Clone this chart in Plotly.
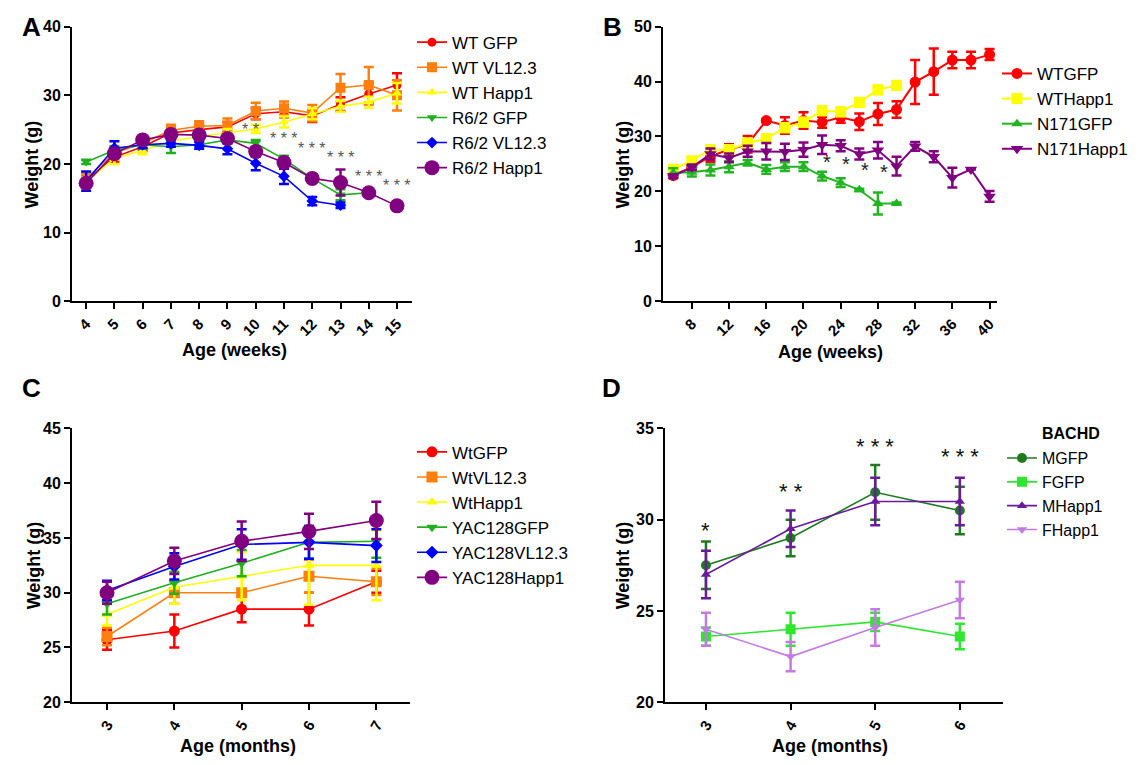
import plotly.graph_objects as go

W, H = 1139, 765
def px(x): return x / W
def py(y): return 1 - y / H

FONT = "Liberation Sans, Arial, sans-serif"

# ---------------- Panel A data (weeks) ----------------
a_weeks = [4, 5, 6, 7, 8, 9, 10, 11, 12, 13, 14, 15]
a_wt_gfp = [17.6, 21.0, 22.5, 24.5, 25.0, 25.4, 27.3, 27.6, 27.0, 28.7, 30.2, 31.5]
a_wt_gfp_err = [0.6, 0.7, 0.6, 0.7, 0.6, 0.7, 0.8, 0.8, 0.9, 1.0, 1.5, 1.7]
a_wt_vl = [17.9, 21.6, 23.0, 24.9, 25.5, 25.6, 27.7, 28.1, 27.4, 31.1, 31.5, 30.0]
a_wt_vl_err = [0.8, 1.0, 0.8, 0.8, 0.7, 1.0, 1.2, 1.0, 1.2, 2.0, 2.6, 2.2]
a_wt_happ = [17.4, 20.8, 22.0, 23.3, 24.0, 24.5, 25.1, 26.1, 27.3, 28.4, 29.0, 30.3]
a_wt_happ_err = [0.6, 0.8, 0.6, 0.6, 0.6, 0.6, 0.6, 0.8, 0.8, 0.8, 0.8, 1.5]
a_r62_gfp_weeks = [4, 5, 6, 7, 8, 9, 10, 11, 12, 13, 14]
a_r62_gfp = [20.3, 22.0, 22.8, 22.5, 22.8, 23.5, 23.0, 20.7, 17.9, 15.5, 15.8]
a_r62_gfp_err = [0.3, 0.5, 0.5, 0.9, 0.5, 0.5, 0.5, 0.5, 0.5, 0.8, 0.3]
a_r62_vl_weeks = [4, 5, 6, 7, 8, 9, 10, 11, 12, 13]
a_r62_vl = [17.5, 22.3, 22.8, 23.0, 22.7, 22.2, 20.1, 18.2, 14.6, 14.0]
a_r62_vl_err = [1.4, 1.0, 0.5, 0.5, 0.5, 0.8, 1.0, 1.1, 0.6, 0.4]
a_r62_happ = [17.2, 21.5, 23.5, 24.3, 24.2, 23.7, 21.8, 20.2, 17.9, 17.3, 15.8, 13.9]
a_r62_happ_err = [0.6, 0.6, 0.5, 0.5, 0.5, 0.5, 0.5, 0.5, 0.5, 1.9, 0.4, 0.4]
a_star_x = [9.8, 11.0, 12.0, 13.0, 14.0, 15.0]
a_star_y = [24.8, 23.5, 22.1, 20.8, 18.1, 16.7]
a_star_text = ["* *", "* * *", "* * *", "* * *", "* * *", "* * *"]

# ---------------- Panel B data (weeks) ----------------
b_weeks = [6, 8, 10, 12, 14, 16, 18, 20, 22, 24, 26, 28, 30, 32, 34, 36, 38, 40]
b_wt_gfp = [22.9, 24.4, 26.4, 27.6, 28.6, 32.9, 32.0, 32.9, 32.6, 33.5, 32.7, 34.1, 34.9, 39.9, 41.8, 43.9, 43.9, 44.9]
b_wt_gfp_err = [0.5, 0.6, 1.0, 1.0, 1.5, 0.3, 1.5, 1.5, 1.0, 1.0, 1.5, 2.0, 1.5, 4.0, 4.2, 1.5, 1.5, 1.0]
b_short_weeks = [6, 8, 10, 12, 14, 16, 18, 20, 22, 24, 26, 28, 30]
b_wt_happ = [24.0, 25.6, 27.6, 27.6, 28.8, 29.6, 31.6, 32.6, 34.7, 34.5, 36.2, 38.5, 39.3]
b_wt_happ_err = [0.8, 0.6, 0.8, 0.8, 0.8, 0.8, 0.8, 0.8, 0.8, 0.8, 0.8, 0.8, 0.8]
b_n171_gfp = [23.4, 23.5, 23.9, 24.5, 25.2, 24.0, 24.5, 24.5, 22.8, 21.6, 20.3, 17.8, 17.8]
b_n171_gfp_err = [0.8, 0.8, 1.0, 1.0, 0.5, 0.8, 0.8, 0.8, 0.8, 0.8, 0.2, 2.0, 0.2]
b_n171_happ = [22.8, 24.4, 26.8, 26.1, 27.3, 27.3, 27.2, 27.6, 28.5, 28.3, 26.8, 27.5, 24.6, 28.2, 26.3, 22.5, 24.0, 19.1]
b_n171_happ_err = [0.3, 0.5, 1.0, 0.8, 1.0, 1.5, 1.5, 1.3, 1.7, 1.0, 1.0, 1.5, 1.7, 0.8, 1.0, 1.8, 0.0, 1.0]
b_star_x = [22.5, 24.6, 26.6, 28.6]
b_star_y = [25.2, 24.9, 23.7, 23.4]

# ---------------- Panel C data (months) ----------------
c_months = [3, 4, 5, 6, 7]
c_wt_gfp = [25.7, 26.5, 28.5, 28.5, 31.0]
c_wt_gfp_err = [0.9, 1.5, 1.2, 1.5, 1.0]
c_wt_vl = [26.0, 30.0, 30.0, 31.5, 31.0]
c_wt_vl_err = [0.8, 1.0, 0.3, 1.5, 1.2]
c_wt_happ = [28.0, 30.5, 31.5, 32.5, 32.5]
c_wt_happ_err = [1.0, 1.5, 2.2, 3.6, 3.2]
c_yac_gfp = [29.0, 30.9, 32.7, 34.6, 34.7]
c_yac_gfp_err = [1.0, 1.0, 1.2, 1.5, 1.5]
c_yac_vl = [30.2, 32.4, 34.4, 34.6, 34.3]
c_yac_vl_err = [0.9, 1.2, 1.4, 1.5, 1.5]
c_yac_happ = [30.0, 32.9, 34.7, 35.6, 36.6]
c_yac_happ_err = [1.0, 1.2, 1.8, 1.6, 1.7]

# ---------------- Panel D data (months) ----------------
d_months = [3, 4, 5, 6]
d_mgfp = [27.5, 29.0, 31.5, 30.5]
d_mgfp_err = [1.3, 1.0, 1.5, 1.3]
d_fgfp = [23.6, 24.0, 24.4, 23.6]
d_fgfp_err = [0.5, 0.9, 0.5, 0.7]
d_mhapp = [27.0, 29.5, 31.0, 31.0]
d_mhapp_err = [1.3, 1.0, 1.3, 1.3]
d_fhapp = [24.0, 22.5, 24.1, 25.6]
d_fhapp_err = [0.9, 0.8, 1.0, 1.0]
d_star_y = [29.7, 31.8, 34.3, 33.75]
d_star_text = ["*", "* *", "* * *", "* * *"]

RED, ORANGE, YELLOW = "#FF0000", "#FF7F0E", "#FFFF00"
GREEN, BLUE, PURPLE = "#1FAF1F", "#0000FF", "#800080"

fig = go.Figure()

def add(x, y, err, name, color, symbol, size, xa, ya, legend, lw=1.6):
    fig.add_trace(go.Scatter(
        x=x, y=y, name=name, mode="lines+markers",
        line=dict(color=color, width=lw),
        marker=dict(color=color, symbol=symbol, size=size),
        error_y=dict(type="data", array=err, color=color, thickness=2.5, width=5),
        xaxis=xa, yaxis=ya, legend=legend, legendgroup=name + xa,
    ))

# Panel A
add(a_weeks, a_wt_gfp, a_wt_gfp_err, "WT GFP", RED, "circle", 9, "x", "y", "legend")
add(a_weeks, a_wt_vl, a_wt_vl_err, "WT VL12.3", ORANGE, "square", 10, "x", "y", "legend")
add(a_weeks, a_wt_happ, a_wt_happ_err, "WT Happ1", YELLOW, "triangle-up", 9, "x", "y", "legend")
add(a_r62_gfp_weeks, a_r62_gfp, a_r62_gfp_err, "R6/2 GFP", GREEN, "triangle-down", 9, "x", "y", "legend")
add(a_r62_vl_weeks, a_r62_vl, a_r62_vl_err, "R6/2 VL12.3", BLUE, "diamond", 9, "x", "y", "legend")
add(a_weeks, a_r62_happ, a_r62_happ_err, "R6/2 Happ1", PURPLE, "circle", 15, "x", "y", "legend")

# Panel B
add(b_weeks, b_wt_gfp, b_wt_gfp_err, "WTGFP", RED, "circle", 11, "x2", "y2", "legend2", 2)
add(b_short_weeks, b_wt_happ, b_wt_happ_err, "WTHapp1", YELLOW, "square", 11, "x2", "y2", "legend2", 2)
add(b_short_weeks, b_n171_gfp, b_n171_gfp_err, "N171GFP", "#22B422", "triangle-up", 10, "x2", "y2", "legend2", 2)
add(b_weeks, b_n171_happ, b_n171_happ_err, "N171Happ1", PURPLE, "triangle-down", 11, "x2", "y2", "legend2", 2)

# Panel C
add(c_months, c_wt_gfp, c_wt_gfp_err, "WtGFP", RED, "circle", 11, "x3", "y3", "legend3")
add(c_months, c_wt_vl, c_wt_vl_err, "WtVL12.3", ORANGE, "square", 11, "x3", "y3", "legend3")
add(c_months, c_wt_happ, c_wt_happ_err, "WtHapp1", YELLOW, "triangle-up", 10, "x3", "y3", "legend3")
add(c_months, c_yac_gfp, c_yac_gfp_err, "YAC128GFP", GREEN, "triangle-down", 10, "x3", "y3", "legend3")
add(c_months, c_yac_vl, c_yac_vl_err, "YAC128VL12.3", BLUE, "diamond", 10, "x3", "y3", "legend3")
add(c_months, c_yac_happ, c_yac_happ_err, "YAC128Happ1", PURPLE, "circle", 15, "x3", "y3", "legend3")

# Panel D
add(d_months, d_mgfp, d_mgfp_err, "MGFP", "#1E7A1E", "circle", 10, "x4", "y4", "legend4")
add(d_months, d_fgfp, d_fgfp_err, "FGFP", "#2EE62E", "square", 10, "x4", "y4", "legend4")
add(d_months, d_mhapp, d_mhapp_err, "MHapp1", "#6A1B9A", "triangle-up", 9, "x4", "y4", "legend4")
add(d_months, d_fhapp, d_fhapp_err, "FHapp1", "#C27BE0", "triangle-down", 9, "x4", "y4", "legend4")

axis_common = dict(showline=True, linecolor="black", linewidth=2, ticks="outside",
                   ticklen=6, tickwidth=2, tickcolor="black", showgrid=False,
                   zeroline=False, mirror=False,
                   tickfont=dict(family=FONT, size=15, color="black", weight="bold"))

def xax(domain, rng, tickvals, angle, anchor):
    d = dict(axis_common)
    d.update(domain=domain, range=rng, tickvals=tickvals, tickangle=angle, anchor=anchor)
    return d

def yax(domain, rng, dtick, anchor):
    d = dict(axis_common)
    d.update(domain=domain, range=rng, dtick=dtick, anchor=anchor, tick0=0)
    d["tickfont"] = dict(family=FONT, size=16, color="black", weight="bold")
    return d

top_dom = [py(300), py(19)]
bot_dom = [py(710), py(430)]

legend_common = dict(bgcolor="rgba(0,0,0,0)", xanchor="left", yanchor="top",
                     traceorder="normal", itemclick=False)

fig.update_layout(
    width=W, height=H, margin=dict(l=0, r=0, t=0, b=0),
    paper_bgcolor="white", plot_bgcolor="white",
    font=dict(family=FONT, color="black"),
    xaxis=xax([px(72), px(412)], [3.5, 15.53], a_weeks, -45, "y"),
    yaxis=yax(top_dom, [0, 40], 10, "x"),
    xaxis2=xax([px(663), px(997)], [4.9, 40.8], [8, 12, 16, 20, 24, 28, 32, 36, 40], -45, "y2"),
    yaxis2=yax(top_dom, [0, 50], 10, "x2"),
    xaxis3=xax([px(72), px(410)], [2.48, 7.5], c_months, -60, "y3"),
    yaxis3=yax(bot_dom, [20, 45], 5, "x3"),
    xaxis4=xax([px(665), px(1003)], [2.516, 6.51], d_months, -60, "y4"),
    yaxis4=yax(bot_dom, [20, 35], 5, "x4"),
    legend=dict(legend_common, x=px(412), y=py(17), font=dict(family=FONT, size=17)),
    legend2=dict(legend_common, x=px(997), y=py(49), font=dict(family=FONT, size=17)),
    legend3=dict(legend_common, x=px(412), y=py(436), font=dict(family=FONT, size=17)),
    legend4=dict(legend_common, x=px(1002), y=py(443), font=dict(family=FONT, size=16)),
    showlegend=True,
)

ann = []
# panel letters
for letter, x, y in [("A", 20, 19), ("B", 601, 19), ("C", 20, 389), ("D", 600, 389)]:
    ann.append(dict(text=letter, x=px(x), y=py(y), xref="paper", yref="paper",
                    xanchor="left", yanchor="middle", showarrow=False,
                    font=dict(family=FONT, size=26, color="black", weight="bold")))
# axis titles
for text, x, y, ang in [("Weight (g)", 32, 160, -90), ("Weight (g)", 623, 160, -90),
                        ("Weight (g)", 34, 570, -90), ("Weight (g)", 623, 570, -90),
                        ("Age (weeks)", 235, 350, 0), ("Age (weeks)", 830, 352, 0),
                        ("Age (months)", 238, 755, 0), ("Age (months)", 830, 755, 0)]:
    ann.append(dict(text=text, x=px(x), y=py(y), xref="paper", yref="paper",
                    xanchor="center", yanchor="middle", textangle=ang, showarrow=False,
                    font=dict(family=FONT, size=18, color="black", weight="bold")))
# BACHD legend title
ann.append(dict(text="BACHD", x=px(1040), y=py(435), xref="paper", yref="paper",
                xanchor="left", yanchor="middle", showarrow=False,
                font=dict(family=FONT, size=16, color="black", weight="bold")))
# significance stars
for x, y, t in zip(a_star_x, a_star_y, a_star_text):
    ann.append(dict(text=t, x=x, y=y, xref="x", yref="y", showarrow=False, yshift=1,
                    font=dict(family=FONT, size=16, color="#555555")))
for x, y in zip(b_star_x, b_star_y):
    ann.append(dict(text="*", x=x, y=y, xref="x2", yref="y2", showarrow=False, yshift=1,
                    font=dict(family=FONT, size=20, color="#222222")))
for x, y, t in zip(d_months, d_star_y, d_star_text):
    ann.append(dict(text=t, x=x, y=y, xref="x4", yref="y4", showarrow=False, yshift=-5,
                    font=dict(family=FONT, size=22, color="#111111")))
fig.update_layout(annotations=ann)

fig.write_html("out.html")
